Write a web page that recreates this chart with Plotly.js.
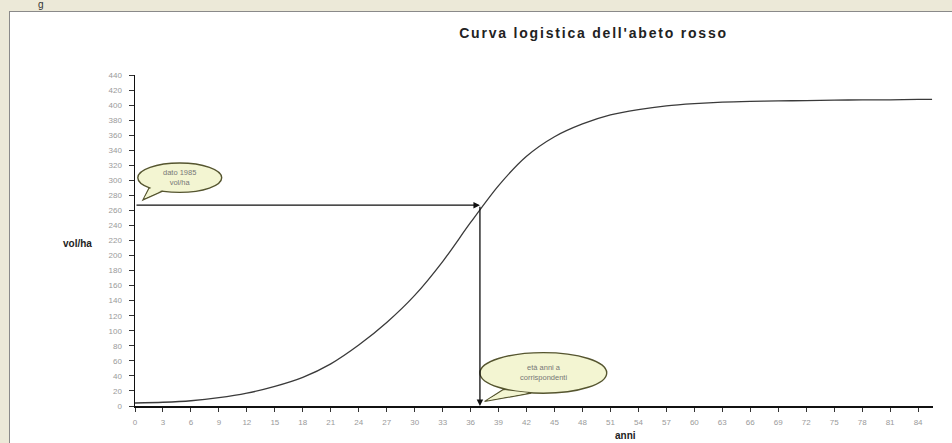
<!DOCTYPE html>
<html>
<head>
<meta charset="utf-8">
<script src="https://cdn.plot.ly/plotly-3.0.1.min.js"></script>
<style>
  html, body { margin:0; padding:0; width:952px; height:443px; overflow:hidden; background:#ECE9D8; }
  #panel { position:absolute; left:9px; top:11px; width:943px; height:432px; background:#ffffff;
           border-left:1px solid #8a8a8a; border-top:1px solid #8a8a8a; }
  #frag { position:absolute; left:38px; top:0px; font:10px "Liberation Sans", Arial, sans-serif; color:#333; line-height:9px; }
  #chart { position:absolute; left:0; top:0; width:952px; height:443px; }
  .gtitle { letter-spacing: 1.8px; }
</style>
</head>
<body>
<div id="frag">g</div>
<div id="panel"></div>
<div id="chart"></div>
<script>
// Years (anni) and volume per hectare (vol/ha)
const years = [0, 3, 6, 9, 12, 15, 18, 21, 24, 27, 30, 33, 36, 39, 42, 45, 48, 51, 54, 57, 60, 63, 66, 69, 72, 75, 78, 81, 84, 85.5];
const volHa = [4, 5, 7, 11, 17, 26, 38, 56, 81, 111, 147, 192, 244, 293, 332, 358, 375, 387, 394, 399, 402, 404, 405, 405.5, 406, 406.5, 407, 407, 407.5, 407.5];
const xTickVals = [0,3,6,9,12,15,18,21,24,27,30,33,36,39,42,45,48,51,54,57,60,63,66,69,72,75,78,81,84];
const yTickVals = [0,20,40,60,80,100,120,140,160,180,200,220,240,260,280,300,320,340,360,380,400,420,440];
// Marked point: age and volume of 1985
const markYear = 37;
const markVol = 267;
const title = "Curva logistica dell'abeto rosso";
const bubble1 = "dato 1985<br>vol/ha";
const bubble2 = "età anni a<br>corrispondenti";

const font = '"Liberation Sans", Arial, sans-serif';
const bubbleFill = '#f3f5d2';
const bubbleLine = '#55552f';

const trace = {
  x: years, y: volHa, type: 'scatter', mode: 'lines',
  line: { color: '#3a3a3a', width: 1.3, shape: 'spline', smoothing: 0.8 },
  hoverinfo: 'x+y', showlegend: false
};

const layout = {
  width: 952, height: 443,
  margin: { l: 135, r: 19, t: 75, b: 37 },
  paper_bgcolor: 'rgba(0,0,0,0)', plot_bgcolor: 'rgba(0,0,0,0)',
  title: { text: '<b>' + title + '</b>', font: { family: font, size: 14, color: '#222' },
           xref: 'paper', x: 0.5746, xanchor: 'center', yref: 'container', y: 0.9255, yanchor: 'middle' },
  xaxis: {
    range: [0, 85.6], tickvals: xTickVals, ticktext: xTickVals.map(String),
    showgrid: false, zeroline: false, showline: true, linecolor: '#111', linewidth: 1.5,
    ticks: 'outside', ticklen: 4, tickcolor: '#333', tickwidth: 1, ticklabelstandoff: 4,
    tickfont: { family: font, size: 8, color: '#9a9a9a' }, fixedrange: true
  },
  yaxis: {
    range: [0, 440], tickvals: yTickVals, ticktext: yTickVals.map(String),
    showgrid: false, zeroline: false, showline: true, linecolor: '#111', linewidth: 1.5,
    ticks: 'outside', ticklen: 5, tickcolor: '#333', tickwidth: 1, ticklabelstandoff: 5,
    tickfont: { family: font, size: 8, color: '#9a9a9a' }, fixedrange: true
  },
  shapes: [
    // bubble 1 tail (outlined, below the ellipse)
    { type: 'path', xref: 'x', yref: 'y', layer: 'above',
      path: 'M 1.6,292 L 0.85,274 L 3.2,287 Z', fillcolor: bubbleFill, line: { color: bubbleLine, width: 1.2 } },
    { type: 'circle', xref: 'x', yref: 'y', layer: 'above', x0: 0.3, x1: 9.3, y0: 284, y1: 323,
      fillcolor: bubbleFill, line: { color: bubbleLine, width: 1.4 } },
    { type: 'path', xref: 'x', yref: 'y', layer: 'above',
      path: 'M 1.75,291 L 1.0,276 L 3.0,287.5 Z', fillcolor: bubbleFill, line: { width: 0 } },
    // bubble 2
    { type: 'path', xref: 'x', yref: 'y', layer: 'above',
      path: 'M 39.5,22 L 37.5,6 L 42.5,17 Z', fillcolor: bubbleFill, line: { color: bubbleLine, width: 1.2 } },
    { type: 'circle', xref: 'x', yref: 'y', layer: 'above', x0: 37.0, x1: 50.6, y0: 17, y1: 71,
      fillcolor: bubbleFill, line: { color: bubbleLine, width: 1.4 } },
    { type: 'path', xref: 'x', yref: 'y', layer: 'above',
      path: 'M 39.7,21 L 37.8,8 L 42.2,17.5 Z', fillcolor: bubbleFill, line: { width: 0 } }
  ],
  annotations: [
    { x: markYear, y: markVol, ax: 0, ay: markVol, xref: 'x', yref: 'y', axref: 'x', ayref: 'y',
      showarrow: true, arrowhead: 2, arrowsize: 1, arrowwidth: 1.3, arrowcolor: '#111', text: '' },
    { x: markYear, y: 0, ax: markYear, ay: markVol, xref: 'x', yref: 'y', axref: 'x', ayref: 'y',
      showarrow: true, arrowhead: 2, arrowsize: 1, arrowwidth: 1.3, arrowcolor: '#111', text: '' },
    { text: bubble1, xref: 'x', yref: 'y', x: 4.8, y: 303.5, showarrow: false,
      font: { family: font, size: 7.5, color: '#777' }, align: 'center' },
    { text: bubble2, xref: 'x', yref: 'y', x: 43.8, y: 44, showarrow: false,
      font: { family: font, size: 7.5, color: '#777' }, align: 'center' },
    { text: '<b>vol/ha</b>', xref: 'paper', yref: 'paper', x: -0.072, y: (406 - 243) / 331,
      xanchor: 'center', yanchor: 'middle', showarrow: false, font: { family: font, size: 10, color: '#222' } },
    { text: '<b>anni</b>', xref: 'paper', yref: 'paper', x: (625 - 135) / 798, y: -(435 - 406) / 331,
      xanchor: 'center', yanchor: 'middle', showarrow: false, font: { family: font, size: 10, color: '#222' } }
  ]
};

Plotly.newPlot('chart', [trace], layout, { displayModeBar: false, staticPlot: true });
</script>
</body>
</html>
